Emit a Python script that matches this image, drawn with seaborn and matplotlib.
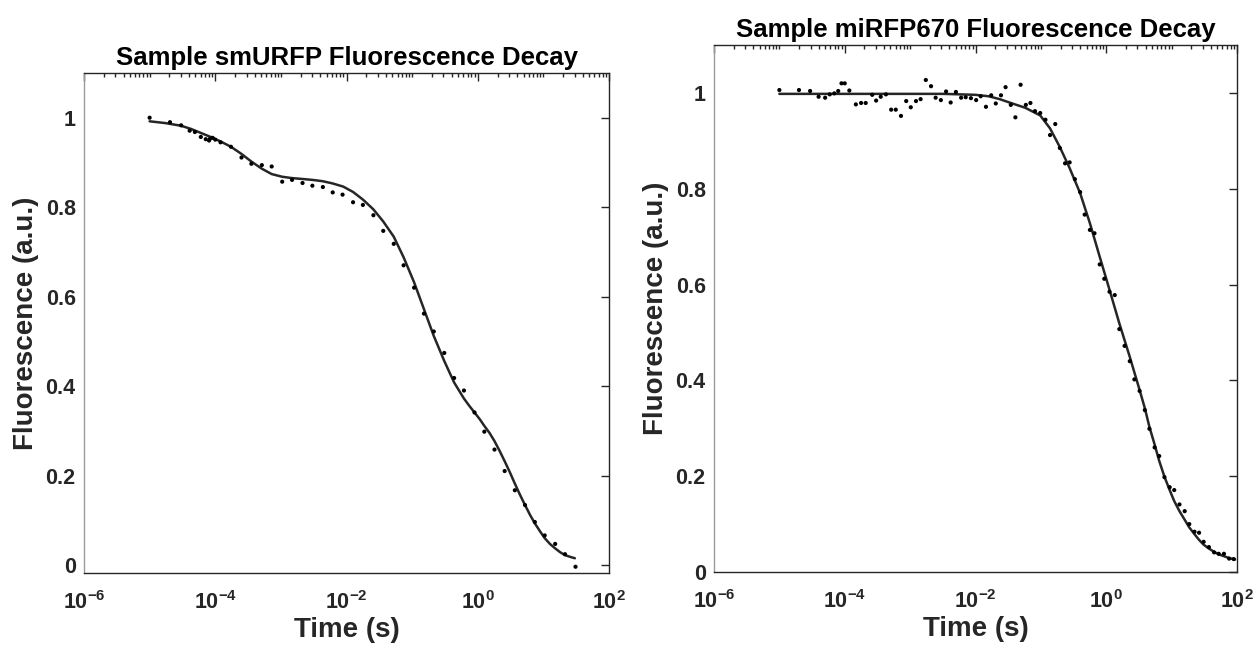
import numpy as np
import pandas as pd
import matplotlib
matplotlib.use("Agg")
import matplotlib.pyplot as plt
import seaborn as sns
from matplotlib.ticker import FixedLocator, FixedFormatter, NullFormatter

# ---------------- data (time given as log10 of seconds) ----------------
smurfp_pts_log_t = [-5.00, -4.69, -4.52, -4.39, -4.31, -4.22, -4.145, -4.095, -4.08, -4.04,
                    -4.00, -3.92, -3.76, -3.60, -3.45, -3.29, -3.14, -2.98, -2.83, -2.67,
                    -2.52, -2.36, -2.21, -2.06, -1.90, -1.75, -1.59, -1.44, -1.28, -1.13,
                    -0.97, -0.82, -0.67, -0.51, -0.36, -0.21, -0.05, 0.10, 0.255, 0.41,
                    0.565, 0.72, 0.87, 1.02, 1.18, 1.33, 1.49]
smurfp_pts_fluor = [1.000, 0.990, 0.983, 0.971, 0.968, 0.957, 0.952, 0.949, 0.953, 0.955,
                    0.951, 0.945, 0.935, 0.911, 0.897, 0.894, 0.891, 0.857, 0.861, 0.854,
                    0.848, 0.845, 0.833, 0.828, 0.811, 0.805, 0.782, 0.747, 0.718, 0.670,
                    0.620, 0.562, 0.522, 0.474, 0.418, 0.390, 0.341, 0.298, 0.258, 0.210,
                    0.167, 0.134, 0.096, 0.066, 0.047, 0.024, -0.004]

smurfp_fit_log_t = [-5.00, -4.76, -4.52, -4.37, -4.22, -4.07, -3.92, -3.76, -3.60, -3.45,
                    -3.29, -3.14, -2.98, -2.83, -2.67, -2.52, -2.36, -2.21, -2.05, -1.90,
                    -1.75, -1.59, -1.44, -1.28, -1.13, -0.97, -0.82, -0.67, -0.51, -0.36,
                    -0.21, -0.13, -0.05, 0.03, 0.10, 0.18, 0.255, 0.33, 0.41, 0.49,
                    0.565, 0.64, 0.72, 0.80, 0.87, 0.95, 1.02, 1.10, 1.18, 1.26,
                    1.33, 1.41, 1.48]
smurfp_fit_fluor = [0.992, 0.988, 0.982, 0.975, 0.966, 0.957, 0.947, 0.935, 0.919, 0.902,
                    0.886, 0.874, 0.868, 0.865, 0.863, 0.861, 0.858, 0.853, 0.846, 0.834,
                    0.817, 0.795, 0.768, 0.734, 0.688, 0.632, 0.572, 0.512, 0.456, 0.408,
                    0.372, 0.356, 0.341, 0.326, 0.311, 0.295, 0.277, 0.256, 0.232, 0.207,
                    0.182, 0.158, 0.134, 0.111, 0.093, 0.075, 0.060, 0.047, 0.037, 0.028,
                    0.022, 0.018, 0.015]

mirfp_pts_log_t = [-5.00, -4.70, -4.53, -4.40, -4.30, -4.23, -4.16, -4.10, -4.05, -4.00,
                   -3.93, -3.83, -3.75, -3.68, -3.58, -3.52, -3.45, -3.37, -3.29, -3.22,
                   -3.14, -3.06, -2.99, -2.91, -2.84, -2.76, -2.68, -2.61, -2.53, -2.45,
                   -2.38, -2.30, -2.22, -2.15, -2.07, -1.99, -1.92, -1.84, -1.76, -1.69,
                   -1.61, -1.54, -1.46, -1.39, -1.31, -1.23, -1.16, -1.09, -1.01, -0.93,
                   -0.86, -0.78, -0.71, -0.63, -0.56, -0.48, -0.40, -0.33, -0.25, -0.18,
                   -0.10, -0.03, 0.05, 0.13, 0.20, 0.28, 0.36, 0.43, 0.51, 0.59,
                   0.66, 0.74, 0.81, 0.89, 0.97, 1.04, 1.12, 1.20, 1.27, 1.35,
                   1.42, 1.49, 1.57, 1.65, 1.72, 1.80, 1.88, 1.95]
mirfp_pts_fluor = [1.006, 1.006, 1.004, 0.992, 0.990, 0.997, 0.999, 1.004, 1.020, 1.020,
                   1.005, 0.976, 0.979, 0.979, 0.996, 0.984, 0.992, 0.997, 0.965, 0.965,
                   0.952, 0.983, 0.970, 0.983, 0.987, 1.027, 1.014, 0.990, 0.985, 1.003,
                   0.980, 1.002, 0.990, 0.991, 0.989, 0.985, 0.993, 0.971, 0.995, 0.978,
                   0.995, 1.012, 0.975, 0.949, 1.017, 0.975, 0.979, 0.962, 0.958, 0.944,
                   0.912, 0.935, 0.885, 0.853, 0.855, 0.820, 0.793, 0.746, 0.714, 0.707,
                   0.642, 0.612, 0.585, 0.578, 0.507, 0.472, 0.440, 0.402, 0.378, 0.338,
                   0.299, 0.260, 0.242, 0.198, 0.177, 0.171, 0.141, 0.127, 0.100, 0.084,
                   0.082, 0.063, 0.052, 0.041, 0.038, 0.038, 0.028, 0.027]

mirfp_fit_log_t = [-5.00, -4.0, -3.0, -2.5, -2.0, -1.80, -1.63, -1.46, -1.24, -1.01,
                   -0.86, -0.71, -0.56, -0.40, -0.25, -0.10, 0.05, 0.20, 0.36, 0.51,
                   0.59, 0.66, 0.74, 0.81, 0.89, 0.97, 1.04, 1.12, 1.20, 1.27,
                   1.35, 1.42, 1.49, 1.57, 1.65, 1.72, 1.80, 1.88, 1.97]
mirfp_fit_fluor = [0.998, 0.998, 0.998, 0.998, 0.996, 0.993, 0.987, 0.979, 0.969, 0.953,
                   0.926, 0.887, 0.843, 0.791, 0.728, 0.658, 0.589, 0.519, 0.449, 0.380,
                   0.342, 0.303, 0.266, 0.232, 0.199, 0.171, 0.148, 0.127, 0.109, 0.093,
                   0.079, 0.067, 0.057, 0.049, 0.042, 0.037, 0.033, 0.029, 0.026]

x_major = [1e-6, 1e-4, 1e-2, 1e0, 1e2]
x_major_labels = [r"$10^{-6}$", r"$10^{-4}$", r"$10^{-2}$", r"$10^{0}$", r"$10^{2}$"]
y_major = [0, 0.2, 0.4, 0.6, 0.8, 1]
y_major_labels = ["0", "0.2", "0.4", "0.6", "0.8", "1"]

titles = ["Sample smURFP Fluorescence Decay", "Sample miRFP670 Fluorescence Decay"]

# ---------------- style ----------------
sns.set_theme(style="white")
plt.rcParams['font.family'] = ['Liberation Sans', 'DejaVu Sans']
plt.rcParams['font.weight'] = 'bold'
plt.rcParams['mathtext.fontset'] = 'custom'
plt.rcParams['mathtext.rm'] = 'Liberation Sans:bold'
plt.rcParams['mathtext.it'] = 'Liberation Sans:bold'
plt.rcParams['mathtext.bf'] = 'Liberation Sans:bold'
plt.rcParams['mathtext.default'] = 'rm'

FS_TICK = 15.5
FS_LABEL = 20
FS_TITLE = 18.5
INK = "#262626"

fig = plt.figure(figsize=(12.57, 6.48), dpi=100)
axL = fig.add_axes([84/1257, 1-573/648, (609-84)/1257, (573-73)/648])
axR = fig.add_axes([714/1257, 1-572/648, (1237-714)/1257, (572-45)/648])


def draw(ax, pts_t, pts_y, fit_t, fit_y, ylim, title):
    pts = pd.DataFrame({"t": np.power(10.0, pts_t), "f": pts_y})
    fit = pd.DataFrame({"t": np.power(10.0, fit_t), "f": fit_y})
    sns.lineplot(data=fit, x="t", y="f", ax=ax, color=INK, linewidth=1.8,
                 estimator=None, sort=False)
    sns.scatterplot(data=pts, x="t", y="f", ax=ax, color="black", s=9,
                    edgecolor="none", zorder=3)
    ax.set_xscale("log")
    ax.set_xlim(1e-6, 1e2)
    ax.set_ylim(*ylim)
    minor = [m * 10.0 ** k for k in range(-6, 2) for m in range(1, 10)
             if not (m == 1 and k % 2 == 0)]
    ax.xaxis.set_major_locator(FixedLocator(x_major))
    ax.xaxis.set_major_formatter(FixedFormatter(x_major_labels))
    ax.xaxis.set_minor_locator(FixedLocator(minor))
    ax.xaxis.set_minor_formatter(NullFormatter())
    ax.yaxis.set_major_locator(FixedLocator(y_major))
    ax.yaxis.set_major_formatter(FixedFormatter(y_major_labels))
    ax.tick_params(which="both", direction="in", top=True, right=True,
                   colors=INK, labelcolor=INK, width=1)
    ax.tick_params(which="major", length=5.5, labelsize=FS_TICK)
    ax.tick_params(which="minor", length=3)
    ax.tick_params(axis="x", which="major", pad=13)
    ax.tick_params(axis="y", which="major", pad=6)
    for side in ["top", "right", "bottom"]:
        ax.spines[side].set_color(INK)
        ax.spines[side].set_linewidth(1)
    ax.spines["left"].set_color("#9a9a9a")
    ax.spines["left"].set_linewidth(1)
    ax.set_xlabel("Time (s)", fontsize=FS_LABEL, fontweight="bold", color=INK, labelpad=2)
    ax.set_ylabel("Fluorescence (a.u.)", fontsize=FS_LABEL, fontweight="bold",
                  color=INK, labelpad=5)
    ax.set_title(title, fontsize=FS_TITLE, fontweight="bold", color="black", pad=6)
    for lab in ax.get_xticklabels() + ax.get_yticklabels():
        lab.set_fontweight("bold")


draw(axL, smurfp_pts_log_t, smurfp_pts_fluor, smurfp_fit_log_t, smurfp_fit_fluor,
     (-0.018, 1.1), titles[0])
draw(axR, mirfp_pts_log_t, mirfp_pts_fluor, mirfp_fit_log_t, mirfp_fit_fluor,
     (0, 1.1), titles[1])

fig.savefig("out.png", dpi=100)
